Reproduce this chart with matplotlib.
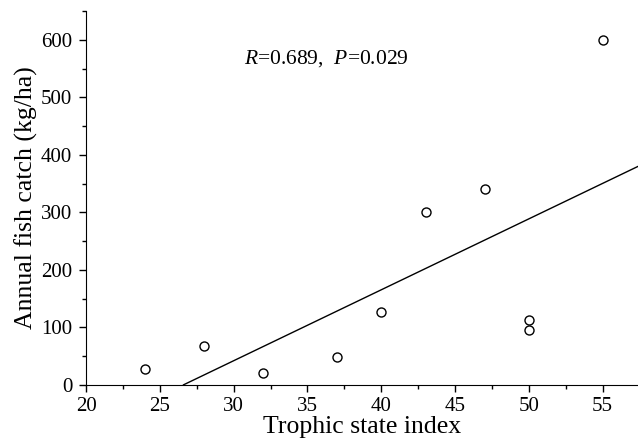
import matplotlib.pyplot as plt
from matplotlib.ticker import MultipleLocator

# data
tsi = [24, 28, 32, 37, 40, 43, 47, 50, 50, 55]
catch = [27, 67, 21, 48, 127, 300, 340, 113, 95, 600]

# regression line end points (as drawn)
fit_x = [26.6, 57.4]
fit_y = [0, 380]

plt.rcParams["font.family"] = ["Liberation Serif", "DejaVu Serif"]
plt.rcParams["mathtext.fontset"] = "custom"
plt.rcParams["mathtext.it"] = "Liberation Serif:italic"
plt.rcParams["mathtext.rm"] = "Liberation Serif"

fig = plt.figure(figsize=(6.38, 4.48), dpi=100)
ax = fig.add_axes([0.135, 0.141, 0.865, 0.834])

ax.plot(fit_x, fit_y, color="black", lw=1.0)
ax.plot(tsi, catch, "o", mfc="white", mec="black", ms=6.5, mew=1.0, ls="none")

ax.set_xlim(20, 57.4)
ax.set_ylim(0, 650)
ax.xaxis.set_major_locator(MultipleLocator(5))
ax.xaxis.set_minor_locator(MultipleLocator(2.5))
ax.yaxis.set_major_locator(MultipleLocator(100))
ax.yaxis.set_minor_locator(MultipleLocator(50))

for s in ("top", "right"):
    ax.spines[s].set_visible(False)
ax.tick_params(which="major", direction="out", length=5, width=1, labelsize=15)
ax.tick_params(which="minor", direction="out", length=2.8, width=1)
ax.tick_params(axis="y", pad=5)
ax.tick_params(axis="x", pad=4)

ax.set_xlabel("Trophic state index", fontsize=18.5, labelpad=0)
ax.set_ylabel("Annual fish catch (kg/ha)", fontsize=18.5, labelpad=2)

ax.text(30.7, 568, r"$R$=0.689,  $P$=0.029", fontsize=15.5, va="center", ha="left")

fig.savefig("out.png", dpi=100)
